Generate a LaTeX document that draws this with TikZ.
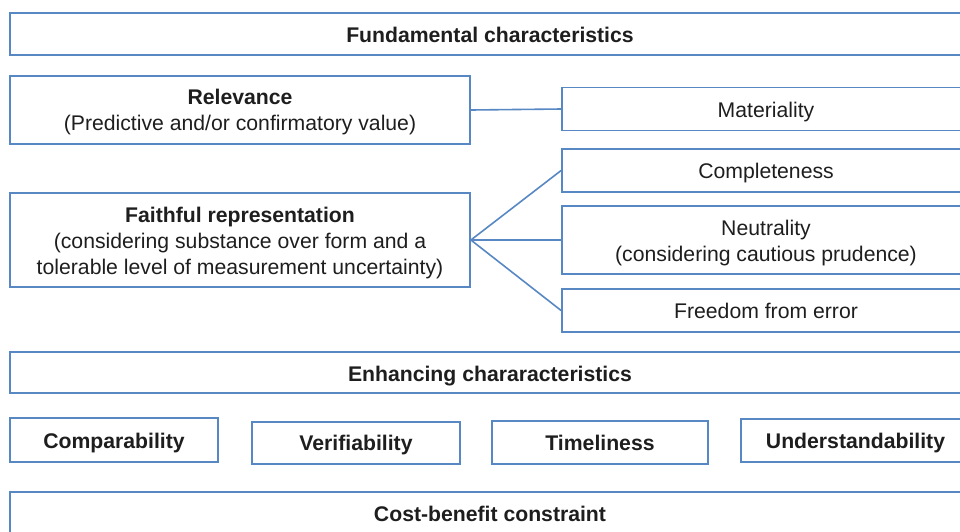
\documentclass[tikz,border=0pt]{standalone}
\usepackage{fontspec}
\setmainfont{Liberation Sans}
\definecolor{boxblue}{RGB}{88,136,196}
\definecolor{txt}{RGB}{30,30,30}
\newcommand{\boxtext}[2][-3pt]{\raisebox{#1}[\height][\depth]{\begin{tabular}{@{}c@{}}#2\end{tabular}}}
\begin{document}
\begin{tikzpicture}[x=1pt,y=-1pt,
  box/.style={draw=boxblue, line width=1.8pt, fill=white, inner sep=0pt,
    text=txt, font=\fontsize{21.2}{26}\selectfont},
  link/.style={draw=boxblue, line width=1.6pt}]
\useasboundingbox (0,0) rectangle (960,531);
\clip (0,0) rectangle (960,531);
\fill[white] (0,0) rectangle (960,531);
\node[box, minimum width=960, minimum height=42] (fund) at (490,34) {\boxtext{\textbf{Fundamental characteristics}}};
\node[box, minimum width=460, minimum height=68] (rel) at (240,110) {\boxtext[-2pt]{\textbf{Relevance}\\(Predictive and/or confirmatory value)}};
\node[box, minimum width=460, minimum height=94] (faith) at (240,240) {\boxtext{\textbf{Faithful representation}\\(considering substance over form and a\\tolerable level of measurement uncertainty)}};
\node[box, minimum width=408, minimum height=43] (mat) at (766,109) {\boxtext{Materiality}};
\node[box, minimum width=408, minimum height=43] (comp) at (766,170.5) {\boxtext{Completeness}};
\node[box, minimum width=408, minimum height=68] (neut) at (766,240) {\boxtext{Neutrality\\(considering cautious prudence)}};
\node[box, minimum width=408, minimum height=43] (free) at (766,310.5) {\boxtext{Freedom from error}};
\node[box, minimum width=960, minimum height=41] (enh) at (490,372.5) {\boxtext[-4pt]{\textbf{Enhancing chararacteristics}}};
\node[box, minimum width=208, minimum height=44] (compar) at (114,440) {\boxtext{\textbf{Comparability}}};
\node[box, minimum width=208, minimum height=42] (verif) at (356,443) {\boxtext[-2pt]{\textbf{Verifiability}}};
\node[box, minimum width=216, minimum height=43] (time) at (600,442.5) {\boxtext{\textbf{Timeliness}}};
\node[box, minimum width=229, minimum height=43] (under) at (855.5,440.5) {\boxtext{\textbf{Understandability}}};
\node[box, minimum width=960, minimum height=48] (cost) at (490,516) {\boxtext[0pt]{\textbf{Cost-benefit constraint}}};
\draw[link] (rel.east) -- (mat.west);
\draw[link] (faith.east) -- (comp.west);
\draw[link] (faith.east) -- (neut.west);
\draw[link] (faith.east) -- (free.west);
\end{tikzpicture}
\end{document}
